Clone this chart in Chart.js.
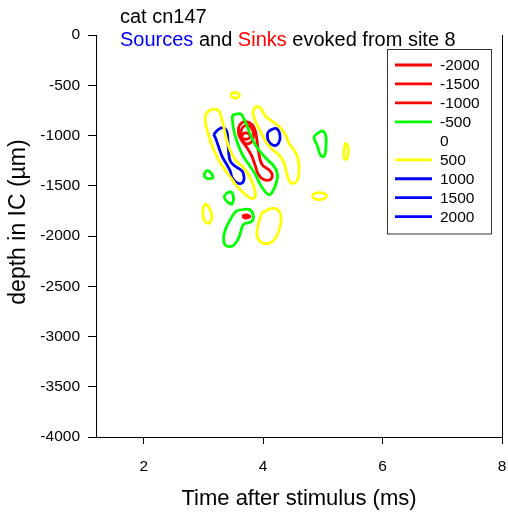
<!DOCTYPE html>
<html>
<head>
<meta charset="utf-8">
<script src="https://cdn.jsdelivr.net/npm/chart.js@4/dist/chart.umd.min.js"></script>
<style>
  html, body { margin: 0; padding: 0; background: #fff; }
  canvas { display: block; }
</style>
</head>
<body>
<canvas id="csd" width="508" height="515"></canvas>
<script>
// Contour levels of the current source density map
const levels = [-2000, -1500, -1000, -500, 0, 500, 1000, 1500, 2000];
const xTicks = [2, 4, 6, 8];
const yTicks = [0, -500, -1000, -1500, -2000, -2500, -3000, -3500, -4000];

// Contour outlines, each point is [time after stimulus (ms), depth (µm)]
// level 500 (yellow)
const pos500Top = [[3.46,-600],[3.48,-577],[3.53,-572],[3.58,-582],[3.60,-602],[3.57,-622],[3.52,-627],[3.47,-617]];
const pos500Left = [[3.18,-734],[3.25,-751],[3.29,-798],[3.33,-891],[3.38,-1023],[3.44,-1139],[3.53,-1239],[3.67,-1321],[3.77,-1405],[3.84,-1504],[3.87,-1604],[3.81,-1627],[3.70,-1587],[3.56,-1504],[3.42,-1388],[3.28,-1272],[3.17,-1139],[3.08,-990],[3.03,-858],[3.04,-791],[3.10,-751]];
const pos500Right = [[3.87,-708],[3.95,-724],[4.04,-808],[4.15,-858],[4.26,-907],[4.37,-990],[4.43,-1073],[4.51,-1139],[4.58,-1222],[4.60,-1355],[4.56,-1455],[4.46,-1471],[4.40,-1388],[4.35,-1272],[4.26,-1189],[4.15,-1139],[4.04,-1057],[3.95,-957],[3.87,-858],[3.83,-774]];
const pos500Far = [[5.38,-1073],[5.42,-1106],[5.42,-1206],[5.38,-1239],[5.35,-1206],[5.36,-1122]];
const pos500Oval = [[4.82,-1604],[4.86,-1577],[4.94,-1569],[5.02,-1577],[5.06,-1604],[5.02,-1629],[4.94,-1639],[4.86,-1629]];
const pos500LowLeft = [[3.03,-1677],[3.08,-1703],[3.14,-1803],[3.10,-1869],[3.03,-1859],[2.99,-1786],[3.00,-1719]];
const pos500Low = [[3.98,-1769],[4.15,-1726],[4.26,-1746],[4.30,-1803],[4.28,-1918],[4.21,-2018],[4.12,-2068],[3.98,-2068],[3.90,-2002],[3.91,-1902],[3.95,-1819]];
// level -500 (green)
const neg500Main = [[3.48,-798],[3.62,-784],[3.67,-824],[3.73,-907],[3.81,-1023],[3.90,-1122],[4.04,-1222],[4.18,-1305],[4.24,-1388],[4.21,-1488],[4.12,-1587],[4.05,-1570],[3.95,-1488],[3.87,-1388],[3.76,-1289],[3.65,-1189],[3.56,-1057],[3.50,-923]];
const neg500Right = [[4.88,-990],[4.99,-957],[5.05,-1007],[5.05,-1122],[5.02,-1206],[4.96,-1196],[4.91,-1106],[4.85,-1023]];
const neg500Dot = [[3.00,-1395],[3.07,-1348],[3.16,-1415],[3.06,-1428]];
const neg500Small = [[3.36,-1587],[3.45,-1560],[3.50,-1604],[3.48,-1680],[3.42,-1670],[3.35,-1620]];
const neg500Low = [[3.56,-1746],[3.76,-1736],[3.83,-1786],[3.81,-1853],[3.67,-1886],[3.62,-1968],[3.56,-2052],[3.48,-2101],[3.36,-2085],[3.34,-2002],[3.38,-1918],[3.45,-1836],[3.50,-1786]];
// level 1000 (blue)
const pos1000Left = [[3.17,-990],[3.25,-940],[3.33,-923],[3.39,-957],[3.41,-1057],[3.42,-1156],[3.45,-1256],[3.53,-1305],[3.65,-1355],[3.68,-1421],[3.65,-1471],[3.56,-1471],[3.48,-1421],[3.45,-1355],[3.39,-1289],[3.31,-1206],[3.25,-1106],[3.20,-1023]];
const pos1000Right = [[4.09,-957],[4.21,-930],[4.28,-990],[4.26,-1073],[4.18,-1099],[4.09,-1057],[4.07,-997]];
// levels -1000 / -1500 / -2000 (red)
const neg1000Main = [[3.59,-907],[3.67,-864],[3.77,-874],[3.85,-923],[3.89,-1023],[3.92,-1156],[3.98,-1289],[4.09,-1338],[4.15,-1388],[4.12,-1438],[4.01,-1438],[3.92,-1388],[3.87,-1305],[3.81,-1206],[3.73,-1122],[3.65,-1057],[3.59,-990]];
const neg1000Low = [[3.65,-1806],[3.71,-1791],[3.78,-1806],[3.71,-1821]];
const neg1500 = [[3.62,-973],[3.66,-917],[3.74,-897],[3.81,-930],[3.84,-990],[3.81,-1057],[3.74,-1083],[3.66,-1057]];
const neg2000 = [[3.64,-1005],[3.67,-980],[3.72,-975],[3.77,-990],[3.78,-1015],[3.74,-1035],[3.68,-1035],[3.65,-1025]];

const contours = [
  { level: 500, path: pos500Top }, { level: 500, path: pos500Left }, { level: 500, path: pos500Right },
  { level: 500, path: pos500Far }, { level: 500, path: pos500Oval }, { level: 500, path: pos500LowLeft },
  { level: 500, path: pos500Low },
  { level: -500, path: neg500Main }, { level: -500, path: neg500Right }, { level: -500, path: neg500Dot },
  { level: -500, path: neg500Small }, { level: -500, path: neg500Low },
  { level: 1000, path: pos1000Left }, { level: 1000, path: pos1000Right },
  { level: -1000, path: neg1000Main }, { level: -1000, path: neg1000Low },
  { level: -1500, path: neg1500 }, { level: -2000, path: neg2000 }
];

// Colour per level (sinks red, sources blue)
function levelColor(v) {
  if (v <= -1000) return '#ff0000';
  if (v === -500) return '#00ff00';
  if (v === 0) return null;
  if (v === 500) return '#ffff00';
  return '#0000ff';
}

const FONT = "'Liberation Sans', Arial, sans-serif";
const LINE_W = 2.8;

const datasets = contours.map(c => {
  const pts = c.path.map(p => ({ x: p[0], y: p[1] }));
  pts.push({ x: c.path[0][0], y: c.path[0][1] }); // close the loop
  return {
    data: pts,
    borderColor: levelColor(c.level),
    borderWidth: LINE_W,
    pointRadius: 0,
    tension: 0.4,
    fill: false
  };
});

const decorations = {
  id: 'decorations',
  afterDraw(chart) {
    const ctx = chart.ctx;
    const area = chart.chartArea;
    ctx.save();
    // right frame line
    ctx.strokeStyle = '#000';
    ctx.lineWidth = 1;
    ctx.beginPath();
    ctx.moveTo(Math.round(area.right) + 0.5, area.top);
    ctx.lineTo(Math.round(area.right) + 0.5, area.bottom);
    ctx.stroke();

    // heading
    ctx.font = '20px ' + FONT;
    ctx.textBaseline = 'alphabetic';
    ctx.textAlign = 'left';
    ctx.fillStyle = '#000';
    ctx.fillText('cat cn147', 120, 23);
    const parts = [['Sources', '#0000ff'], [' and ', '#000'], ['Sinks', '#ff0000'], [' evoked from site 8', '#000']];
    let x = 120;
    for (const [t, col] of parts) {
      ctx.fillStyle = col;
      ctx.fillText(t, x, 45.5);
      x += ctx.measureText(t).width;
    }

    // vertical axis title
    ctx.save();
    ctx.translate(25, 222);
    ctx.rotate(-Math.PI / 2);
    ctx.font = '23px ' + FONT;
    ctx.textAlign = 'center';
    ctx.fillStyle = '#000';
    ctx.fillText('depth in IC (µm)', 0, 0);
    ctx.restore();

    // level key
    ctx.fillStyle = '#fff';
    ctx.fillRect(387.5, 49.5, 104, 184.5);
    ctx.strokeStyle = '#333';
    ctx.lineWidth = 1;
    ctx.strokeRect(387.5, 49.5, 104, 184.5);
    ctx.font = '15.5px ' + FONT;
    ctx.textBaseline = 'middle';
    ctx.textAlign = 'left';
    levels.forEach((v, i) => {
      const y = 65 + i * 18.96;
      const col = levelColor(v);
      if (col) {
        ctx.strokeStyle = col;
        ctx.lineWidth = LINE_W;
        ctx.beginPath();
        ctx.moveTo(395, y);
        ctx.lineTo(432, y);
        ctx.stroke();
      }
      ctx.fillStyle = '#000';
      ctx.fillText(String(v), 440, y + 1);
    });
    ctx.restore();
  }
};

new Chart(document.getElementById('csd'), {
  type: 'line',
  data: { datasets },
  plugins: [decorations],
  options: {
    responsive: false,
    animation: false,
    layout: { padding: { top: 35, right: 6, left: 0, bottom: 0 } },
    plugins: { legend: { display: false }, tooltip: { enabled: false } },
    scales: {
      x: {
        type: 'linear',
        min: 1.2,
        max: 8,
        afterBuildTicks: s => { s.ticks = xTicks.map(v => ({ value: v })); },
        afterFit: s => { s.height = 78; s.paddingLeft = 0; s.paddingRight = 0; },
        border: { display: true, color: '#000', width: 1 },
        grid: { display: true, drawOnChartArea: false, drawTicks: true, tickLength: 7, color: '#000' },
        ticks: { color: '#000', padding: 13, font: { family: FONT, size: 15.5 }, callback: v => String(v) },
        title: { display: true, text: 'Time after stimulus (ms)', color: '#000',
                 font: { family: FONT, size: 22 }, padding: { top: 0, bottom: 3 } }
      },
      y: {
        type: 'linear',
        min: -4000,
        max: 0,
        afterBuildTicks: s => { s.ticks = yTicks.map(v => ({ value: v })); },
        afterFit: s => { s.width = 96; s.paddingTop = 0; s.paddingBottom = 0; },
        border: { display: true, color: '#000', width: 1 },
        grid: { display: true, drawOnChartArea: false, drawTicks: true, tickLength: 8, color: '#000' },
        ticks: { color: '#000', padding: 8, font: { family: FONT, size: 15.5 }, callback: v => String(v) },
        title: { display: false }
      }
    }
  }
});
</script>
</body>
</html>
